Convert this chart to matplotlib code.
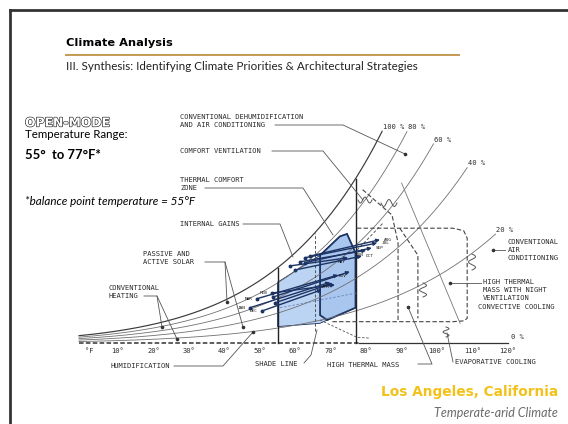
import numpy as np
import matplotlib
matplotlib.use("Agg")
import matplotlib.pyplot as plt
from matplotlib.lines import Line2D
from matplotlib import patheffects

W_PX, H_PX = 568, 424

# chart scale: 10F at x=118, 3.545 px per F, W=0 at y=343
X10_PX, PX_PER_F = 118, 3.545
BASE_PX, PX_PER_W = 343, 8200

# ---- data ----
axis_temps = [10, 20, 30, 40, 50, 60, 70, 80, 90, 100, 110, 120]
rh_levels = [100, 80, 60, 40, 20]
rh_end_temps = [84.5, 91.5, 99.0, 108.5, 116.5]
open_low, open_high = 55, 77
shade_temp = 65.5

# comfort zone, (degF, humidity ratio)
zone_t = [55.0, 55.0, 67.0, 72.6, 74.6, 77.0, 77.0, 69.0, 67.0]
zone_w = [0.0020, 0.0074, 0.0107, 0.0130, 0.0133, 0.0110, 0.0043, 0.0028, 0.0024]
core_t = [67.0, 72.6, 74.6, 77.0, 77.0, 69.0, 67.0]
core_w = [0.0107, 0.0130, 0.0133, 0.0110, 0.0043, 0.0028, 0.0034]

# monthly lines for Los Angeles (night -> day)
months = ['JAN', 'FEB', 'MAR', 'APR', 'MAY', 'JUN', 'JUL', 'AUG', 'SEP', 'OCT', 'NOV', 'DEC']
t_low = [47.2, 53.4, 49.2, 54.3, 58.5, 61.3, 62.8, 64.2, 62.8, 59.9, 53.7, 50.6]
w_low = [0.0043, 0.0061, 0.0054, 0.0049, 0.0094, 0.0099, 0.0104, 0.0106, 0.0098, 0.0089, 0.0056, 0.0039]
t_high = [69.8, 71.2, 72.1, 70.6, 74.9, 80.0, 83.1, 83.9, 81.6, 78.8, 75.4, 67.5]
w_high = [0.0074, 0.0071, 0.0083, 0.0073, 0.0104, 0.0113, 0.0122, 0.0126, 0.0116, 0.0106, 0.0087, 0.0065]

# dashed strategy outlines
ac_t = [77.4, 104.5, 107.5, 108.5, 108.5, 107.5, 104.5, 70.0]
ac_w = [0.0140, 0.0140, 0.0137, 0.0128, 0.0030, 0.0027, 0.0026, 0.0026]
mass_t = [79.0, 87.3, 89.0, 89.0]
mass_w = [0.0187, 0.0156, 0.0122, 0.0028]
vent_t = [89.5, 94.6, 94.6]
vent_w = [0.0140, 0.0107, 0.0030]
evap_t = [90.0, 106.5]
evap_w = [0.0195, 0.0024]


def w_sat(t_f, rh):
    tc = (np.asarray(t_f, dtype=float) - 32) / 1.8
    ps = 0.61094 * np.exp(17.625 * tc / (tc + 243.04))
    pv = rh / 100 * ps
    return 0.622 * pv / (101.325 - pv)


def to_data(x, y):
    return 10 + (x - X10_PX) / PX_PER_F, (BASE_PX - y) / PX_PER_W


fig = plt.figure(figsize=(W_PX / 100, H_PX / 100), dpi=100)
fig.patch.set_facecolor('white')
ax = fig.add_axes([0, 0, 1, 1])
ax.set_xlim(to_data(0, 0)[0], to_data(W_PX, 0)[0])
ax.set_ylim(to_data(0, H_PX)[1], to_data(0, 0)[1])
ax.axis('off')

NAVY = '#1c3363'
mono = dict(family='DejaVu Sans Mono', fontsize=5.1, color='#2a2a2a')


def ftext(x, y, s, **kw):
    fig.text(x / W_PX, 1 - y / H_PX, s, **kw)


def ptext(x, y, s, **kw):
    ax.text(*to_data(x, y), s, va='center', **kw)


def leader(pts, dot=False):
    xs, ys = zip(*[to_data(*p) for p in pts])
    ax.plot(xs, ys, color='#555555', lw=0.6)
    if dot:
        ax.plot(xs[-1], ys[-1], 'o', ms=1.6, color='#333333')


def squiggle(x, y, w, h, vertical=False):
    s = np.linspace(0, 1, 40)
    if vertical:
        xs, ys = x + w * 0.5 * np.sin(s * 3 * np.pi), y + h * s
    else:
        xs, ys = x + w * s, y + h * 0.5 * np.sin(s * 3 * np.pi)
    d = [to_data(a, b) for a, b in zip(xs, ys)]
    ax.plot([p[0] for p in d], [p[1] for p in d], color='#555555', lw=0.7)


# ---- slide frame and titles ----
fig.add_artist(Line2D([10 / W_PX, 1], [1 - 10 / H_PX] * 2, color='#333333', lw=2))
fig.add_artist(Line2D([10 / W_PX] * 2, [0, 1 - 10 / H_PX], color='#333333', lw=2))
fig.add_artist(Line2D([66 / W_PX, 459 / W_PX], [1 - 55 / H_PX] * 2, color='#c49a52', lw=1.4))

ftext(66, 43, 'Climate Analysis', family='DejaVu Sans', weight='bold', fontsize=8.2, va='center')
ftext(66, 66, 'III. Synthesis: Identifying Climate Priorities & Architectural Strategies',
      family='Lato', fontsize=8.4, va='center', color='#222222')
ftext(25, 123, 'OPEN-MODE', family='DejaVu Sans', weight='bold', fontsize=8.9, va='center',
      color='white', path_effects=[patheffects.withStroke(linewidth=0.9, foreground='#222222')])
ftext(25, 135, 'Temperature Range:', family='Lato', fontsize=8.3, va='center')
ftext(25, 155, '55°  to 77°F*', family='Lato', weight='bold', fontsize=9.4, va='center')
ftext(25, 202, '*balance point temperature = 55°F', family='Lato', style='italic',
      fontsize=8.4, va='center')
ftext(558, 392, 'Los Angeles, California', family='DejaVu Sans', weight='bold', fontsize=9.9,
      color='#f2c21b', ha='right', va='center')
ftext(558, 413, 'Temperate-arid Climate', family='Lato', style='italic', fontsize=9.0,
      color='#6a6a6a', ha='right', va='center')

# ---- psychrometric curves ----
for rh, tend in zip(rh_levels, rh_end_temps):
    t = np.linspace(-1, tend, 200)
    ax.plot(t, w_sat(t, rh), color='#3a3a3a' if rh == 100 else '#707070',
            lw=0.85 if rh == 100 else 0.6)
    ax.annotate(f'{rh} %', (tend, float(w_sat(tend, rh))), xytext=(0.5, 3),
                textcoords='offset points', va='center', **mono)

ax.plot([-1, 78], [0, 0], color='#333333', lw=1.1, ls=(0, (3, 1.5)))
ax.plot([78, 120], [0, 0], color='#333333', lw=0.9)
ax.annotate('0 %', (120, 0), xytext=(2, 4), textcoords='offset points', va='center', **mono)
gap = -8 / PX_PER_W
ax.text(2, gap, '°F', ha='center', va='center', **mono)
for t in axis_temps:
    ax.text(t, gap, f'{t}°', ha='center', va='center', **mono)

# ---- comfort zone ----
ax.fill(zone_t, zone_w, facecolor='#bcd4f3', edgecolor=NAVY, lw=0.6)
ax.fill(core_t, core_w, facecolor='#a9c6ee', edgecolor=NAVY, lw=1.3)
for t in (open_low, open_high):
    ax.plot([t, t], [0, float(w_sat(t, 100))], color='#222222', lw=1.0)
ax.plot([shade_temp] * 2, [0.0015, float(w_sat(shade_temp, 100))], color='#555555',
        lw=0.7, ls=(0, (3, 2)))
ax.plot([55.7, 77.4], [0.0043, 0.0061], color='#6a86b8', lw=0.6, ls=(0, (3, 2)))
ax.plot([67.0, 77.4, 81.0], [0.0028, 0.0007, 0.0006], color='#555555', lw=0.6, ls=(0, (3, 2)))

# ---- strategy outlines ----
ax.plot(ac_t, ac_w, color='#444444', lw=0.8, ls=(0, (4, 2)))
ax.plot(mass_t, mass_w, color='#444444', lw=0.8, ls=(0, (4, 2)))
ax.plot(vent_t, vent_w, color='#444444', lw=0.8, ls=(0, (4, 2)))
ax.plot(evap_t, evap_w, color='#777777', lw=0.6)
ax.plot([77.4, 84.7], [0.0113, 0.0146], color='#555555', lw=0.7, ls=(0, (3, 2)))

squiggle(358, 200, 14, 6)
squiggle(381, 203, 16, 7)
squiggle(472, 254, 7, 16, vertical=True)
squiggle(423, 283, 7, 14, vertical=True)
squiggle(446, 327, 6, 10, vertical=True)

# ---- monthly lines ----
small = dict(family='DejaVu Sans Mono', fontsize=3.2, color='#1a1a1a', va='center')
for m, tl, wl, th, wh in zip(months, t_low, w_low, t_high, w_high):
    ax.annotate('', xy=(th, wh), xytext=(tl, wl),
                arrowprops=dict(arrowstyle='-|>', color=NAVY, lw=1.0,
                                mutation_scale=5, shrinkA=0, shrinkB=0))
    ax.plot(tl, wl, 'o', ms=1.8, color=NAVY)
    if m in ('DEC', 'JAN', 'FEB', 'MAR'):
        ax.annotate(m, (tl, wl), xytext=(-3, 0), textcoords='offset points', ha='right', **small)
    elif m in ('JUL', 'AUG', 'SEP', 'OCT'):
        ax.annotate(m, (th, wh), xytext=(3, 0), textcoords='offset points', ha='left', **small)
    else:
        ax.annotate(m, (th, wh), xytext=(-2, -3), textcoords='offset points', ha='right', **small)

# ---- strategy labels and leaders ----
ptext(180, 117, 'CONVENTIONAL DEHUMIDIFICATION', **mono)
ptext(180, 125, 'AND AIR CONDITIONING', **mono)
leader([(275, 125), (343, 125), (405, 154)], dot=True)
ptext(180, 151, 'COMFORT VENTILATION', **mono)
leader([(272, 151), (323, 151), (363, 200)])
ptext(180, 180, 'THERMAL COMFORT', **mono)
ptext(180, 188, 'ZONE', **mono)
leader([(205, 188), (303, 188), (333, 235)])
ptext(180, 224, 'INTERNAL GAINS', **mono)
leader([(243, 224), (280, 224), (293, 257)])
ptext(143, 254, 'PASSIVE AND', **mono)
ptext(143, 262, 'ACTIVE SOLAR', **mono)
leader([(205, 262), (225, 262), (227, 302)], dot=True)
leader([(225, 262), (243, 327)], dot=True)
ptext(108, 288, 'CONVENTIONAL', **mono)
ptext(108, 296, 'HEATING', **mono)
leader([(144, 296), (157, 296), (162, 327)], dot=True)
leader([(157, 296), (177, 339)], dot=True)
ptext(110, 366, 'HUMIDIFICATION', **mono)
leader([(174, 366), (223, 366), (253, 332)], dot=True)
ptext(255, 364, 'SHADE LINE', **mono)
leader([(304, 363), (311, 355), (317, 330)])
ptext(327, 365, 'HIGH THERMAL MASS', **mono)
leader([(418, 364), (432, 364), (408, 307)], dot=True)
ptext(455, 362, 'EVAPORATIVE COOLING', **mono)
leader([(453, 362), (447, 333)])
ptext(507, 242, 'CONVENTIONAL', **mono)
ptext(508, 250, 'AIR', **mono)
ptext(507, 258, 'CONDITIONING', **mono)
leader([(505, 250), (493, 250)], dot=True)
ptext(483, 282, 'HIGH THERMAL', **mono)
ptext(483, 290, 'MASS WITH NIGHT', **mono)
ptext(483, 298, 'VENTILATION', **mono)
ptext(478, 307, 'CONVECTIVE COOLING', **mono)
leader([(481, 283), (450, 283)], dot=True)

fig.savefig('out.png', dpi=100)
